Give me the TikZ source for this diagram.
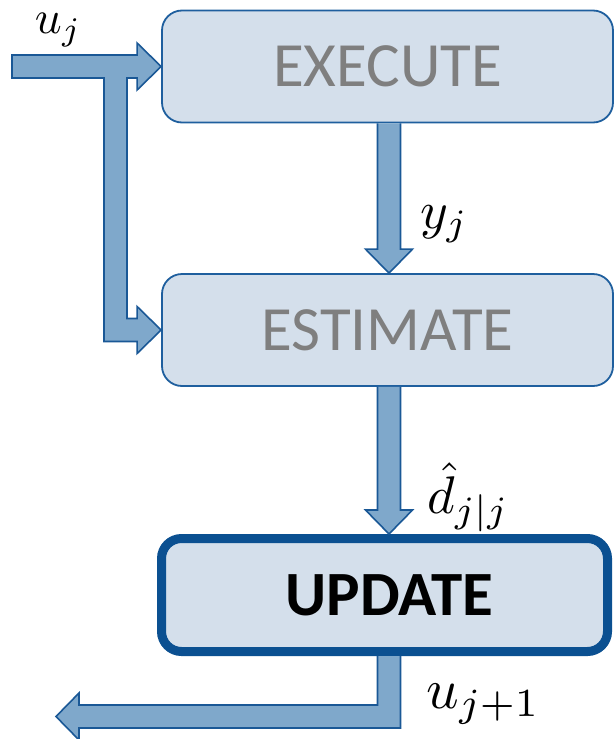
\documentclass[tikz,border=0pt]{standalone}
\usepackage{fontspec}
\newfontfamily\boxfont{Carlito}
\usetikzlibrary{calc}
\definecolor{boxfill}{HTML}{D4DFEB}
\definecolor{boxline}{HTML}{1F5F9E}
\definecolor{updline}{HTML}{0B5091}
\definecolor{arrowfill}{HTML}{7FA8CB}
\definecolor{arrowline}{HTML}{1A5896}
\definecolor{labelgray}{HTML}{7F7F7F}
\begin{document}
\begin{tikzpicture}[x=1pt,y=-1pt,
  stage/.style={draw=boxline, line width=1.8pt, fill=boxfill, rounded corners=20pt,
    minimum width=451pt, minimum height=112pt, inner sep=0pt,
    font=\boxfont\fontsize{63}{70}\selectfont, text=labelgray},
  keystage/.style={stage, draw=updline, line width=9pt, text=black,
    font=\boxfont\bfseries\fontsize{63}{70}\selectfont,
    minimum width=446pt, minimum height=113pt},
  blockarrow/.style={fill=arrowfill, draw=arrowline, line width=1.6pt, line join=miter},
  sig/.style={inner sep=0pt, anchor=base west}]

\useasboundingbox (0,0) rectangle (615,739);

% the three stages
\node[stage]    (exec)  at (387.5,66.5) {EXECUTE};
\node[stage]    (estim) at (387.5,330)  {ESTIMATE};
\node[keystage] (upd)   at (384.5,595)  {\hspace*{10pt}UPDATE};

% free ends of the input and output arrows, and the branch column
\coordinate (in)  at (12,66.5);
\coordinate (out) at (56,716.5);
\coordinate (bx)  at (115.5,0);

% input u_j, feeding EXECUTE and branching down to ESTIMATE
\draw[blockarrow]
  ($(in)+(0,-11.5)$) -- ($(exec.west)+(-24,-11.5)$) -- ($(exec.west)+(-24,-23.5)$)
  -- (exec.west) -- ($(exec.west)+(-24,23.5)$) -- ($(exec.west)+(-24,11.5)$)
  -- ($(bx |- exec.west)+(11.5,11.5)$) -- ($(bx |- estim.west)+(11.5,-11.5)$)
  -- ($(estim.west)+(-24,-11.5)$) -- ($(estim.west)+(-24,-23.5)$)
  -- (estim.west) -- ($(estim.west)+(-24,23.5)$) -- ($(estim.west)+(-24,11.5)$)
  -- ($(bx |- estim.west)+(-11.5,11.5)$) -- ($(bx |- exec.west)+(-11.5,11.5)$)
  -- ($(in)+(0,11.5)$) -- cycle;

% EXECUTE -> ESTIMATE
\draw[blockarrow]
  ($(exec.south)+(-10,0)$) -- ($(exec.south |- estim.north)+(-10,-24)$)
  -- ($(exec.south |- estim.north)+(-22,-24)$) -- ($(exec.south |- estim.north)+(1.5,0)$)
  -- ($(exec.south |- estim.north)+(25,-24)$) -- ($(exec.south |- estim.north)+(13,-24)$)
  -- ($(exec.south)+(13,0)$);

% ESTIMATE -> UPDATE
\draw[blockarrow]
  ($(estim.south)+(-10,0)$) -- ($(estim.south |- upd.north)+(-10,-24)$)
  -- ($(estim.south |- upd.north)+(-22,-24)$) -- ($(estim.south |- upd.north)+(1.5,0)$)
  -- ($(estim.south |- upd.north)+(25,-24)$) -- ($(estim.south |- upd.north)+(13,-24)$)
  -- ($(estim.south)+(13,0)$);

% UPDATE -> output u_{j+1}
\draw[blockarrow]
  ($(exec.south |- upd.south)+(-10,0)$) -- ($(exec.south |- out)+(-10,-11.5)$)
  -- ($(out)+(23,-11.5)$) -- ($(out)+(23,-23.5)$) -- (out)
  -- ($(out)+(23,23.5)$) -- ($(out)+(23,11.5)$)
  -- ($(exec.south |- out)+(13,11.5)$) -- ($(exec.south |- upd.south)+(13,0)$);

% signal labels
\node[sig, scale=4.7] (lu)  at (34,33)   {$u_j$};
\node[sig, scale=5.3] (ly)  at (419,228) {$y_j$};
\node[sig, scale=5.3] (ld)  at (426,513) {$\hat{d}_{j|j}$};
\node[sig, scale=5.7] (lu1) at (425,708) {$u_{j+1}$};
\end{tikzpicture}
\end{document}
